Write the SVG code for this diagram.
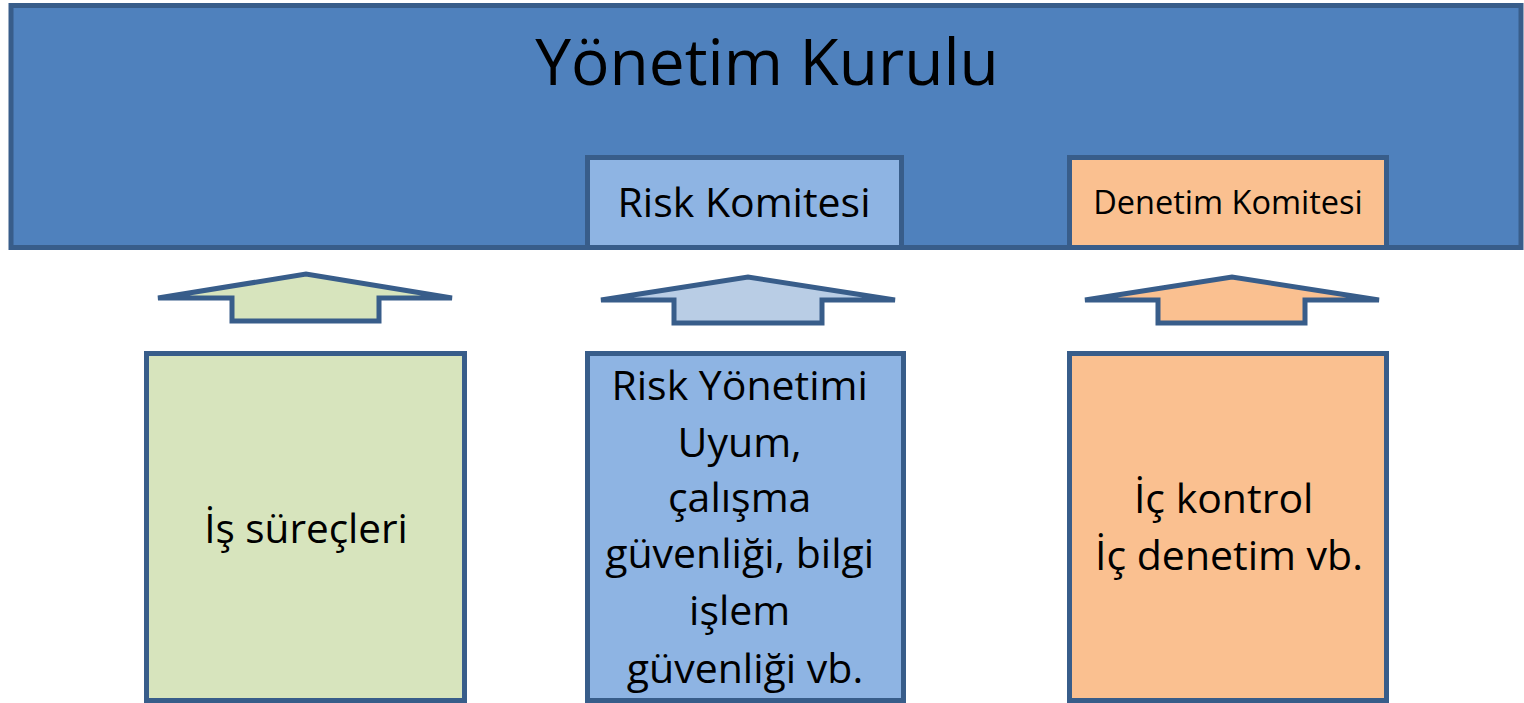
<svg xmlns="http://www.w3.org/2000/svg" width="1524" height="703" viewBox="0 0 1524 703">
<style>
.b{stroke:#385d8a;stroke-width:5;stroke-linejoin:miter}
.t{font-family:"Open Sans","DejaVu Sans",sans-serif;fill:#000;text-anchor:middle}
</style>
<rect width="1524" height="703" fill="#fff"/>
<g id="yonetim-kurulu">
<rect class="b" x="11" y="5.5" width="1510" height="242" fill="#4f81bd"/>
<text class="t" x="767" y="85" font-size="64">Yönetim Kurulu</text>
</g>
<g id="risk-komitesi">
<rect class="b" x="587.5" y="157.5" width="314" height="90" fill="#8eb4e3"/>
<text class="t" x="744" y="217" font-size="41">Risk Komitesi</text>
</g>
<g id="denetim-komitesi">
<rect class="b" x="1069.5" y="157.5" width="317" height="90" fill="#fac090"/>
<text class="t" x="1228" y="214" font-size="32.5">Denetim Komitesi</text>
</g>
<g id="connectors">
<path class="b" d="M158,298 L306,274 L452,298 L379,298 L379,321 L232,321 L232,298 Z" fill="#d7e4bd"/>
<path class="b" d="M601,300 L748,277 L895,300 L822,300 L822,323 L674,323 L674,300 Z" fill="#b9cde5"/>
<path class="b" d="M1085,300 L1232,277 L1379,300 L1305,300 L1305,323 L1158,323 L1158,300 Z" fill="#fac090"/>
</g>
<g id="is-surecleri">
<rect class="b" x="146.5" y="353.5" width="318" height="347" fill="#d7e4bd"/>
<text class="t" x="306" y="543" font-size="40.5">İş süreçleri</text>
</g>
<g id="risk-yonetimi">
<rect class="b" x="587.5" y="353.5" width="316" height="347" fill="#8eb4e3"/>
<text class="t" x="745" font-size="41">
<tspan x="745" y="400">Risk Yönetimi</tspan>
<tspan x="745" y="457">Uyum,</tspan>
<tspan x="745" y="512">çalışma</tspan>
<tspan x="745" y="568">güvenliği, bilgi</tspan>
<tspan x="745" y="625">işlem</tspan>
<tspan x="745" y="683">güvenliği vb.</tspan>
</text>
</g>
<g id="ic-kontrol">
<rect class="b" x="1069.5" y="353.5" width="317" height="347" fill="#fac090"/>
<text class="t" x="1229" font-size="41">
<tspan x="1229" y="513">İç kontrol</tspan>
<tspan x="1229" y="570">İç denetim vb.</tspan>
</text>
</g>
</svg>
